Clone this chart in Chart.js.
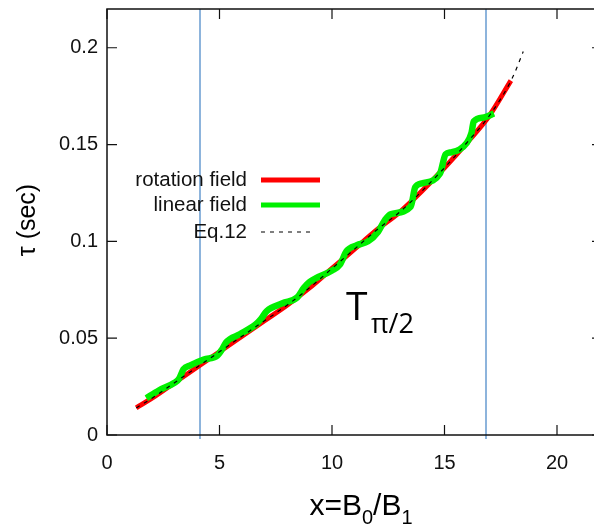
<!DOCTYPE html>
<html>
<head>
<meta charset="utf-8">
<script src="https://cdn.jsdelivr.net/npm/chart.js@4.4.1/dist/chart.umd.min.js"></script>
<style>
  html, body { margin: 0; padding: 0; background: #fff; overflow: hidden; }
  #wrap { width: 610px; height: 527px; }
</style>
</head>
<body>
<div id="wrap"><canvas id="tauChart"></canvas></div>
<script>
// tick values and labels
const xTicks = [0, 5, 10, 15, 20];
const yTicks = [0, 0.05, 0.1, 0.15, 0.2];
const yTickLabels = ['0', '0.05', '0.1', '0.15', '0.2'];

// rotation field (red)
const rotX = [1.3, 2, 3, 4, 5, 6, 7, 8, 9, 10, 11, 12, 13, 14, 15, 16, 17, 17.95];
const rotY = [0.014, 0.019, 0.027, 0.035, 0.043, 0.051, 0.059, 0.067, 0.076, 0.086, 0.096, 0.106, 0.115, 0.126, 0.138, 0.151, 0.165, 0.183];

// linear field (green)
const linX = [1.75, 2.3, 3.0, 3.2, 3.4, 3.7, 4.3, 4.9, 5.1, 5.3, 5.9, 6.6, 6.85, 7.1, 7.8, 8.45, 8.75, 9.0, 10.0, 10.35, 10.65, 11.1, 11.6, 12.05, 12.35, 12.6, 13.5, 13.7, 14.0, 14.8, 15.05, 15.3, 16.0, 16.2, 16.3, 16.75, 17.2];
const linY = [0.019, 0.023, 0.027, 0.029, 0.034, 0.036, 0.039, 0.041, 0.044, 0.048, 0.052, 0.057, 0.060, 0.064, 0.068, 0.071, 0.076, 0.079, 0.085, 0.088, 0.095, 0.098, 0.100, 0.105, 0.111, 0.114, 0.118, 0.128, 0.130, 0.135, 0.145, 0.146, 0.151, 0.156, 0.162, 0.164, 0.166];

// Eq.12 (dashed)
const eqX = [1.3, 2, 3, 4, 5, 6, 7, 8, 9, 10, 11, 12, 13, 14, 15, 16, 17, 18, 18.5];
const eqY = [0.014, 0.019, 0.027, 0.035, 0.043, 0.051, 0.059, 0.067, 0.076, 0.086, 0.096, 0.106, 0.115, 0.126, 0.138, 0.151, 0.165, 0.184, 0.198];

// vertical marker lines
const markerX = [4.15, 16.85];

const pts = (xs, ys) => xs.map((x, i) => ({ x, y: ys[i] }));

const decorations = {
    id: 'decorations',
    beforeDatasetsDraw(chart) {
        const { ctx, chartArea: a, scales: { x } } = chart;
        ctx.save();
        ctx.strokeStyle = '#8db4dc';
        ctx.lineWidth = 2;
        markerX.forEach(v => {
            const px = Math.round(x.getPixelForValue(v));
            ctx.beginPath();
            ctx.moveTo(px, a.top);
            ctx.lineTo(px, a.bottom + 4);
            ctx.stroke();
        });
        ctx.restore();
    },
    afterDatasetsDraw(chart) {
        const { ctx, chartArea: a, scales: { x, y } } = chart;
        ctx.save();
        // frame
        ctx.strokeStyle = '#111';
        ctx.lineWidth = 1.5;
        ctx.strokeRect(a.left, a.top, a.right - a.left, a.bottom - a.top);
        // inward ticks
        ctx.lineWidth = 1.2;
        xTicks.forEach(v => {
            const px = x.getPixelForValue(v);
            ctx.beginPath();
            ctx.moveTo(px, a.bottom); ctx.lineTo(px, a.bottom - 10);
            ctx.moveTo(px, a.top); ctx.lineTo(px, a.top + 10);
            ctx.stroke();
        });
        yTicks.forEach(v => {
            const py = y.getPixelForValue(v);
            ctx.beginPath();
            ctx.moveTo(a.left, py); ctx.lineTo(a.left + 10, py);
            ctx.moveTo(a.right, py); ctx.lineTo(a.right - 10, py);
            ctx.stroke();
        });

        // legend
        ctx.fillStyle = '#111';
        ctx.font = '20.5px "Liberation Sans", Arial, sans-serif';
        ctx.textAlign = 'right';
        ctx.textBaseline = 'middle';
        const rows = [180, 205, 232];
        chart.data.datasets.forEach((ds, i) => {
            const ly = rows[i];
            ctx.fillText(ds.label, 247, ly);
            ctx.beginPath();
            ctx.strokeStyle = ds.borderColor;
            ctx.lineWidth = i === 2 ? 1.2 : 5;
            ctx.setLineDash(ds.borderDash || []);
            ctx.moveTo(261, ly);
            ctx.lineTo(i === 2 ? 312 : 320, ly);
            ctx.stroke();
            ctx.setLineDash([]);
        });

        // T_{pi/2} annotation
        ctx.textAlign = 'left';
        ctx.textBaseline = 'alphabetic';
        ctx.fillStyle = '#000';
        ctx.font = '39px "Open Sans", sans-serif';
        ctx.fillText('T', 346, 320);
        ctx.font = '27px "Open Sans", sans-serif';
        ctx.fillText('π/2', 371, 333);

        // x title
        const big = '30px "Liberation Sans", Arial, sans-serif';
        const small = '20px "Liberation Sans", Arial, sans-serif';
        const parts = [['x=B', big, 0], ['0', small, 9], ['/B', big, 0], ['1', small, 9]];
        let w = 0;
        parts.forEach(p => { ctx.font = p[1]; w += ctx.measureText(p[0]).width; });
        let cx = 361 - w / 2;
        parts.forEach(p => {
            ctx.font = p[1];
            ctx.fillText(p[0], cx, 515 + p[2]);
            cx += ctx.measureText(p[0]).width;
        });

        // y title
        ctx.translate(28, 220);
        ctx.rotate(-Math.PI / 2);
        ctx.textAlign = 'center';
        ctx.textBaseline = 'middle';
        ctx.font = '25px "Liberation Sans", Arial, sans-serif';
        ctx.fillText('τ (sec)', 0, 0);
        ctx.restore();
    }
};

new Chart(document.getElementById('tauChart'), {
    type: 'line',
    data: {
        datasets: [
            {
                label: 'rotation field',
                data: pts(rotX, rotY),
                borderColor: '#ff0000',
                borderWidth: 5,
                cubicInterpolationMode: 'monotone',
                pointRadius: 0,
                order: 3
            },
            {
                label: 'linear field',
                data: pts(linX, linY),
                borderColor: '#00f000',
                borderWidth: 6.5,
                cubicInterpolationMode: 'monotone',
                pointRadius: 0,
                order: 2
            },
            {
                label: 'Eq.12',
                data: pts(eqX, eqY),
                borderColor: '#000',
                borderWidth: 1.2,
                borderDash: [4, 5],
                cubicInterpolationMode: 'monotone',
                pointRadius: 0,
                order: 1
            }
        ]
    },
    options: {
        responsive: true,
        maintainAspectRatio: false,
        animation: false,
        layout: { padding: { top: 9, right: 8, left: 0, bottom: 0 } },
        plugins: { legend: { display: false }, tooltip: { enabled: false } },
        scales: {
            x: {
                type: 'linear',
                min: 0,
                max: 22,
                afterFit: s => { s.height = 92; s.paddingLeft = 0; s.paddingRight = 0; },
                afterBuildTicks: s => { s.ticks = xTicks.map(v => ({ value: v })); },
                grid: { display: false, drawTicks: false },
                border: { display: false },
                ticks: {
                    padding: 16,
                    color: '#111',
                    font: { family: '"Liberation Sans", Arial, sans-serif', size: 20 },
                    maxRotation: 0
                }
            },
            y: {
                type: 'linear',
                min: 0,
                max: 0.22,
                afterFit: s => { s.width = 107; s.paddingTop = 0; s.paddingBottom = 0; },
                afterBuildTicks: s => { s.ticks = yTicks.map(v => ({ value: v })); },
                grid: { display: false, drawTicks: false },
                border: { display: false },
                ticks: {
                    padding: 9,
                    color: '#111',
                    font: { family: '"Liberation Sans", Arial, sans-serif', size: 20 },
                    callback: (v, i) => yTickLabels[yTicks.indexOf(v)] ?? ''
                }
            }
        }
    },
    plugins: [decorations]
});
</script>
</body>
</html>
